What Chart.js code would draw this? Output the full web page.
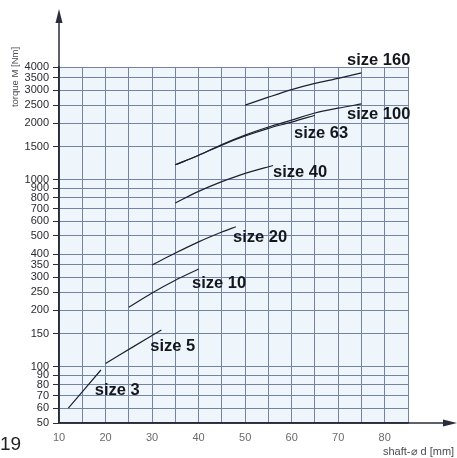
<!DOCTYPE html>
<html>
<head>
<meta charset="utf-8">
<script src="https://cdn.jsdelivr.net/npm/chart.js@4.4.1/dist/chart.umd.min.js"></script>
<style>
  html, body { margin: 0; padding: 0; background: #fff; }
  #chart { display: block; }
</style>
</head>
<body>
<canvas id="chart" width="457" height="458"></canvas>
<script>
// tick values (log y axis, linear x axis)
const Y_TICKS = [50, 60, 70, 80, 90, 100, 150, 200, 250, 300, 350, 400, 500, 600, 700, 800, 900, 1000, 1500, 2000, 2500, 3000, 3500, 4000];
const X_MIN = 10;
const X_MAX = 85;

// shaft diameter d [mm] and torque M [Nm] per coupling size
const size3_d = [12, 19];
const size3_M = [60, 96];
const size5_d = [20, 26, 32];
const size5_M = [104, 128, 157];
const size10_d = [25, 30, 35, 40];
const size10_M = [208, 248, 290, 333];
const size20_d = [30, 35, 40, 45, 48];
const size20_M = [350, 405, 465, 525, 560];
const size40_d = [35, 40, 45, 50, 56];
const size40_M = [750, 865, 975, 1080, 1190];
const size63_d = [35, 40, 45, 50, 55, 60, 65];
const size63_M = [1200, 1350, 1530, 1710, 1880, 2030, 2210];
const size100_d = [35, 40, 45, 50, 55, 60, 65, 70, 75];
const size100_M = [1200, 1350, 1540, 1730, 1910, 2080, 2270, 2410, 2540];
const size160_d = [50, 55, 60, 65, 70, 75];
const size160_M = [2500, 2760, 3030, 3270, 3480, 3720];

const seriesNames = ['size 3', 'size 5', 'size 10', 'size 20', 'size 40', 'size 63', 'size 100', 'size 160'];
const seriesD = [size3_d, size5_d, size10_d, size20_d, size40_d, size63_d, size100_d, size160_d];
const seriesM = [size3_M, size5_M, size10_M, size20_M, size40_M, size63_M, size100_M, size160_M];

// where each name is written, in chart units (left edge, vertical middle)
const labelD = [17.7, 29.6, 38.6, 47.4, 56.0, 60.5, 71.9, 71.9];
const labelM = [75, 129, 280, 493, 1098, 1775, 2243, 4355];

const LINE_COLOR = '#1e2230';
const GRID_COLOR = '#7483a3';
const AXIS_COLOR = '#2a2e3a';

function toPoints(ds, ms) {
    return ds.map((d, i) => ({ x: d, y: ms[i] }));
}

const paperPlugin = {
    id: 'paper',
    beforeDraw(chart) {
        const a = chart.chartArea;
        const ctx = chart.ctx;
        ctx.save();
        ctx.fillStyle = '#eef5fb';
        ctx.fillRect(a.left, a.top, a.right - a.left, a.bottom - a.top);
        ctx.restore();
    },
    afterDraw(chart) {
        const a = chart.chartArea;
        const ctx = chart.ctx;
        const xs = chart.scales.x;
        const ys = chart.scales.y;
        ctx.save();

        // axis arrows
        ctx.strokeStyle = AXIS_COLOR;
        ctx.fillStyle = AXIS_COLOR;
        ctx.lineWidth = 1.5;
        ctx.beginPath();
        ctx.moveTo(a.left, a.bottom);
        ctx.lineTo(a.left, 16);
        ctx.moveTo(a.left, a.bottom);
        ctx.lineTo(450, a.bottom);
        ctx.stroke();
        ctx.beginPath();
        ctx.moveTo(a.left, 9);
        ctx.lineTo(a.left - 3.5, 23);
        ctx.lineTo(a.left + 3.5, 23);
        ctx.closePath();
        ctx.fill();
        ctx.beginPath();
        ctx.moveTo(457, a.bottom);
        ctx.lineTo(443, a.bottom - 3.5);
        ctx.lineTo(443, a.bottom + 3.5);
        ctx.closePath();
        ctx.fill();

        // axis titles
        ctx.fillStyle = '#4a4a52';
        ctx.font = '9.5px "Liberation Sans", Arial, sans-serif';
        ctx.textBaseline = 'middle';
        ctx.textAlign = 'center';
        ctx.save();
        ctx.translate(15, 77);
        ctx.rotate(-Math.PI / 2);
        ctx.fillText('torque M [Nm]', 0, 0);
        ctx.restore();
        ctx.textAlign = 'left';
        ctx.font = '11px "Liberation Sans", Arial, sans-serif';
        ctx.fillText('shaft-\u2300 d [mm]', 383, 452);

        // page number
        ctx.fillStyle = '#222';
        ctx.font = '19px "Liberation Sans", Arial, sans-serif';
        ctx.fillText('19', 0, 445);

        // size names
        ctx.fillStyle = '#15171f';
        ctx.font = 'bold 16.5px "Liberation Sans", Arial, sans-serif';
        seriesNames.forEach((name, i) => {
            ctx.fillText(name, xs.getPixelForValue(labelD[i]), ys.getPixelForValue(labelM[i]));
        });
        ctx.restore();
    }
};

const datasets = seriesNames.map((name, i) => ({
    label: name,
    data: toPoints(seriesD[i], seriesM[i]),
    borderColor: LINE_COLOR,
    borderWidth: 1.2,
    pointRadius: 0,
    fill: false,
    tension: 0.3
}));

new Chart(document.getElementById('chart'), {
    type: 'line',
    data: { datasets: datasets },
    plugins: [paperPlugin],
    options: {
        responsive: false,
        animation: false,
        layout: { padding: { top: 67, right: 49, left: 0, bottom: 0 } },
        plugins: {
            legend: { display: false },
            tooltip: { enabled: false }
        },
        scales: {
            x: {
                type: 'linear',
                min: X_MIN,
                max: X_MAX,
                afterFit: (scale) => { scale.height = 35; },
                grid: { color: GRID_COLOR, lineWidth: 1, drawTicks: false },
                border: { color: AXIS_COLOR, width: 1.5 },
                ticks: {
                    stepSize: 5,
                    padding: 8,
                    color: '#6a6a70',
                    font: { family: '"Liberation Sans", Arial, sans-serif', size: 11 },
                    maxRotation: 0,
                    autoSkip: false,
                    callback: (v) => (v % 10 === 0 && v <= 80 ? String(v) : '')
                }
            },
            y: {
                type: 'logarithmic',
                min: Y_TICKS[0],
                max: Y_TICKS[Y_TICKS.length - 1],
                afterFit: (scale) => { scale.width = 59; },
                afterBuildTicks: (scale) => { scale.ticks = Y_TICKS.map(v => ({ value: v })); },
                grid: { color: GRID_COLOR, lineWidth: 1, tickLength: 6, tickColor: AXIS_COLOR },
                border: { color: AXIS_COLOR, width: 1.5 },
                ticks: {
                    padding: 4,
                    color: '#2a2a30',
                    font: { family: '"Liberation Sans", Arial, sans-serif', size: 11 },
                    autoSkip: false,
                    callback: (v) => String(v)
                }
            }
        }
    }
});
</script>
</body>
</html>
